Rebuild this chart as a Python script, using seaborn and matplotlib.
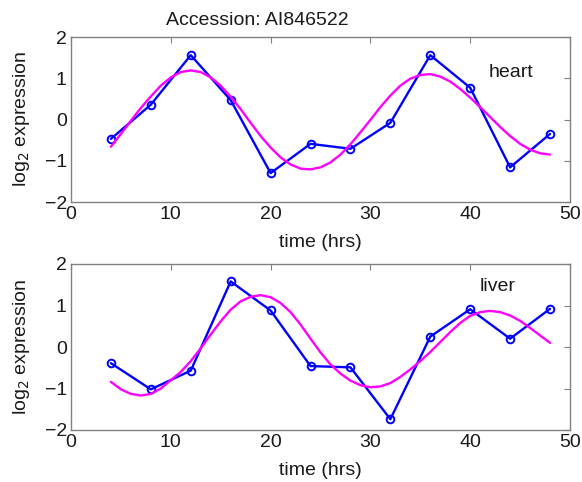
import matplotlib
matplotlib.use("Agg")
import matplotlib.pyplot as plt
import seaborn as sns
import pandas as pd

# sample times (hrs) and log2 expression
sample_hrs = [4, 8, 12, 16, 20, 24, 28, 32, 36, 40, 44, 48]
heart_expr = [-0.47, 0.36, 1.56, 0.47, -1.30, -0.59, -0.71, -0.08, 1.56, 0.77, -1.16, -0.35]
liver_expr = [-0.39, -1.02, -0.57, 1.58, 0.88, -0.46, -0.49, -1.74, 0.25, 0.91, 0.20, 0.92]

# fitted curves, read hourly from 4 to 48 hrs
fit_hrs = list(range(4, 49))
heart_fit = [-0.66, -0.35, -0.03, 0.28, 0.56, 0.82, 1.02, 1.15, 1.19, 1.15,
             1.02, 0.82, 0.55, 0.25, -0.08, -0.40, -0.68, -0.92, -1.09, -1.19,
             -1.21, -1.16, -1.04, -0.85, -0.60, -0.31, -0.01, 0.30, 0.58, 0.82,
             0.99, 1.08, 1.10, 1.04, 0.92, 0.74, 0.53, 0.30, 0.06, -0.18,
             -0.40, -0.59, -0.73, -0.82, -0.85]
liver_fit = [-0.84, -1.02, -1.13, -1.17, -1.13, -1.00, -0.80, -0.60, -0.34, -0.03,
             0.30, 0.62, 0.90, 1.10, 1.21, 1.25, 1.20, 1.06, 0.84, 0.54,
             0.20, -0.13, -0.42, -0.64, -0.81, -0.92, -0.97, -0.95, -0.87, -0.72,
             -0.54, -0.34, -0.12, 0.12, 0.36, 0.58, 0.75, 0.84, 0.87, 0.84,
             0.76, 0.63, 0.46, 0.28, 0.10]

accession = "Accession: AI846522"
tissues = ["heart", "liver"]
x_ticks = [0, 10, 20, 30, 40, 50]
y_ticks = [-2, -1, 0, 1, 2]

sns.set_style("white")
plt.rcParams["font.family"] = ["Liberation Sans", "DejaVu Sans"]

fig = plt.figure(figsize=(5.82, 4.82), dpi=100)
W, H = 582, 482
ax1 = fig.add_axes([71 / W, 1 - 202 / H, 499 / W, 165 / H])
ax2 = fig.add_axes([71 / W, 1 - 430 / H, 499 / W, 166 / H])

frame = "#808080"
ink = "#1a1a1a"
fs = 14
panels = [
    (ax1, heart_expr, heart_fit, tissues[0], (44.1, 1.13)),
    (ax2, liver_expr, liver_fit, tissues[1], (42.7, 1.45)),
]
for ax, expr, fit, name, pos in panels:
    obs = pd.DataFrame({"hrs": sample_hrs, "expr": expr})
    sm = pd.DataFrame({"hrs": fit_hrs, "expr": fit})
    sns.lineplot(data=obs, x="hrs", y="expr", ax=ax, color="#0000ff",
                 linewidth=1.7, marker="o", markersize=5.5,
                 markerfacecolor="none", markeredgecolor="#0000ff",
                 markeredgewidth=1.4)
    sns.lineplot(data=sm, x="hrs", y="expr", ax=ax, color="#ff00ff",
                 linewidth=1.7)
    ax.set_xlim(0, 50)
    ax.set_ylim(-2, 2)
    ax.set_xticks(x_ticks)
    ax.set_yticks(y_ticks)
    ax.tick_params(direction="in", length=4, width=0.8, color=frame,
                   labelsize=fs, labelcolor=ink, top=True, right=True,
                   pad=3)
    for sp in ax.spines.values():
        sp.set_color(frame)
        sp.set_linewidth(1.0)
    ax.set_xlabel("time (hrs)", fontsize=fs, labelpad=8, color=ink)
    ax.set_ylabel("log$_2$ expression", fontsize=fs, labelpad=9, color=ink)
    ax.text(pos[0], pos[1], name, ha="center", va="center", fontsize=fs,
            color=ink)

ax1.text(18.7, 2.40, accession, ha="center", va="center", fontsize=fs,
         color=ink)

fig.savefig("out.png", dpi=100)
